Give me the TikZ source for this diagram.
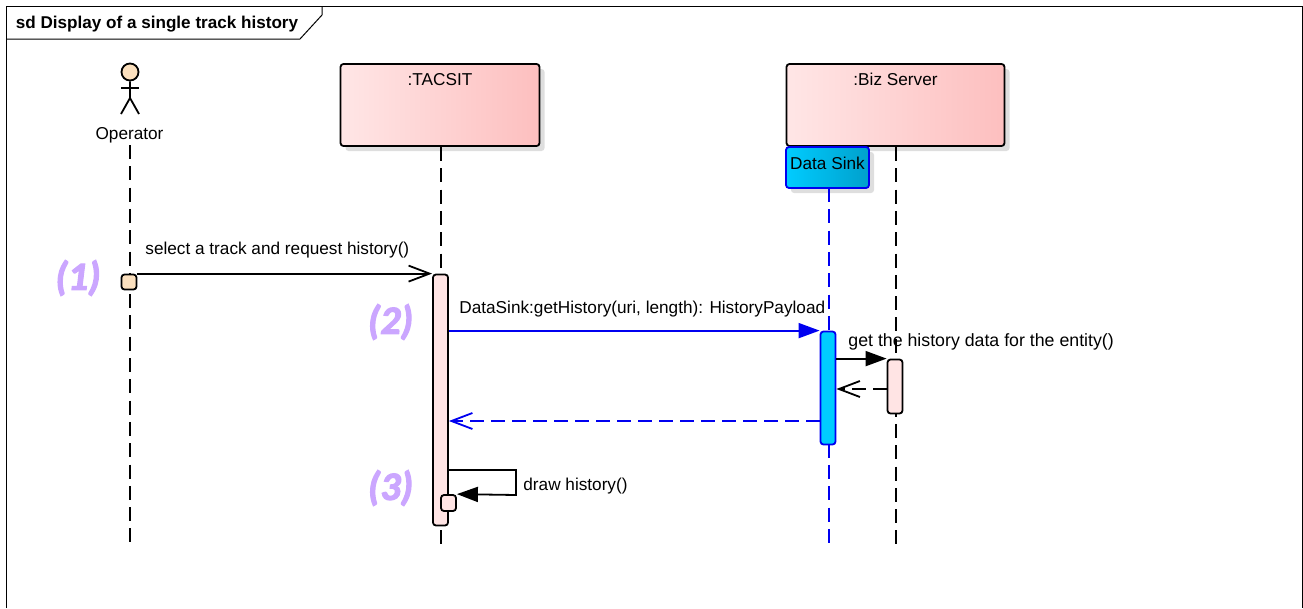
\documentclass[tikz,border=0pt]{standalone}
\usepackage{fontspec}
\setmainfont{Liberation Sans}
\newfontfamily\notefont[BoldItalicFeatures={FakeBold=3}]{Carlito}
\usepackage{xcolor}
\usetikzlibrary{arrows.meta,positioning,shadows}
\definecolor{headleft}{HTML}{FFE6E6}
\definecolor{headright}{HTML}{FDBFBF}
\definecolor{sinkleft}{HTML}{00CCFF}
\definecolor{sinkright}{HTML}{00A0CC}
\definecolor{focuspink}{HTML}{FFE4E4}
\definecolor{focustan}{HTML}{FBE0BE}
\definecolor{notepurple}{HTML}{CBA6FF}
\definecolor{msgblue}{HTML}{0000F0}

\begin{document}
\begin{tikzpicture}[x=1pt,y=-1pt,node distance=5pt,line width=1.8pt,font=\fontsize{17.2}{20}\selectfont]
	\tikzstyle{head}
	  =[draw, rounded corners=3pt, left color=headleft, right color=headright,
	  minimum height=82pt, inner sep=0pt,
	  drop shadow={shadow xshift=5pt, shadow yshift=-5pt, fill=black!13, opacity=1}]
	\tikzstyle{sinkhead}
	  =[draw=msgblue, rounded corners=3pt, left color=sinkleft, right color=sinkright,
	  minimum width=83pt, minimum height=41pt, inner sep=0pt, text height=12pt, text depth=9pt,
	  drop shadow={shadow xshift=5pt, shadow yshift=-5pt, fill=black!13, opacity=1}]
	\tikzstyle{focus}
	  =[draw, rounded corners=3pt, fill=focuspink, minimum width=15pt, inner sep=0pt]
	\tikzstyle{sinkfocus}
	  =[focus, draw=msgblue, fill=sinkleft]
	\tikzstyle{lifeline}
	  =[draw, dash pattern=on 14pt off 7.3pt]
	\tikzstyle{msg}
	  =[draw, -{Triangle[length=21pt,width=15pt]}]
	\tikzstyle{reply}
	  =[draw, dash pattern=on 14pt off 7pt, -{Straight Barb[length=21pt,width=16pt]}]
	\tikzstyle{lbl}
	  =[inner sep=0pt, anchor=west, text height=16pt, text depth=4pt]
	\tikzstyle{headname}
	  =[inner sep=0pt, text height=16pt, text depth=4pt]
	\tikzstyle{note}
	  =[inner sep=0pt, text=notepurple, font=\notefont\bfseries\itshape\fontsize{40}{43}\selectfont]

	\useasboundingbox (0,0) rectangle (1303,608);

	% frame
	\coordinate (framebl) at (6,608);
	\coordinate (frametl) at (6,6);
	\coordinate (frametr) at (1302,6);
	\coordinate (framebr) at (1302,608);
	\coordinate (tabl) at (6,39);
	\coordinate (tabm) at (300,39);
	\coordinate (tabc) at (322,15);
	\coordinate (tabt) at (322,6);
	\draw[line width=1pt] (framebl) -- (frametl) -- (frametr) -- (framebr);
	\draw[line width=1pt] (tabl) -- (tabm) -- (tabc) -- (tabt);
	\node[lbl, font=\bfseries\fontsize{17.1}{20}\selectfont] (title)
	  at (15,22) {sd Display of a single track history};

	% actor
	\node[draw, circle, fill=focustan, minimum size=17pt, inner sep=0pt] (ophead)
	  at (130,72) {};
	\coordinate (ophip) at (130,98);
	\coordinate (oparml) at (121,88);
	\coordinate (oparmr) at (139,88);
	\coordinate (oplegl) at (121,114);
	\coordinate (oplegr) at (139,114);
	\draw (ophead) -- (ophip) -- (oplegl);
	\draw (ophip) -- (oplegr);
	\draw (oparml) -- (oparmr);
	\node[headname] (operator)
	  at (129.5,133) {Operator};

	% heads
	\node[head, minimum width=199pt] (tacsit)
	  at (440,105) {};
	\node[headname] (tacsitname)
	  [below=5pt of tacsit.north] {:TACSIT};
	\node[head, minimum width=218pt] (biz)
	  at (895.5,105) {};
	\node[headname] (bizname)
	  [below=5pt of biz.north] {:Biz Server};
	\node[sinkhead] (sink)
	  at (827.5,167.5) {Data Sink};

	% lifelines
	\coordinate (opend) at (130,543);
	\coordinate (tacsitend) at (441,545);
	\coordinate (sinkend) at (829,548);
	\coordinate (bizend) at (896,545);
	\coordinate (opstart) at (130,145);
	\coordinate (tacsitstart) at (441,147);
	\coordinate (sinkstart) at (829,188);
	\coordinate (bizstart) at (896,147);
	\draw[lifeline] (opstart) -- (opend);
	\draw[lifeline] (tacsitstart) -- (tacsitend);
	\draw[lifeline, msgblue] (sinkstart) -- (sinkend);
	\draw[lifeline] (bizstart) -- (bizend);

	% activations
	\node[focus, fill=focustan, minimum height=15pt] (opfocus)
	  at (129,282) {};
	\node[focus, minimum height=251pt] (tacsitfocus)
	  at (440.5,400) {};
	\node[sinkfocus, minimum height=113pt] (sinkfocus)
	  at (828,388) {};
	\node[focus, minimum height=54pt] (bizfocus)
	  at (895,386.5) {};
	\node[focus, minimum height=16pt] (selffocus)
	  at (448.5,503) {};

	% messages
	\draw[draw, -{Straight Barb[length=21pt,width=16pt]}] (opfocus.north east) -- (tacsitfocus.north west);
	\node[lbl] (selectlbl)
	  at (144.5,248) {select a track and request history()};

	\draw[msg, msgblue] (tacsitfocus.east |- sinkfocus.north) -- (sinkfocus.north west);
	\node[lbl] (getlbl)
	  at (458.5,307) {DataSink:getHistory(uri, length): HistoryPayload};

	\draw[msg] (sinkfocus.east |- bizfocus.north) -- (bizfocus.north west);
	\node[lbl, font=\fontsize{17.75}{20}\selectfont] (datalbl)
	  at (847.5,340) {get the history data for the entity()};

	\coordinate (replyy) at (895,389);
	\draw[reply] (bizfocus.west |- replyy) -- (sinkfocus.east |- replyy);

	\coordinate (returny) at (828,421);
	\draw[reply, msgblue] (sinkfocus.west |- returny) -- (tacsitfocus.east |- returny);

	\coordinate (selfa) at (516,470);
	\coordinate (selfb) at (516,495);
	\draw[msg] (tacsitfocus.east |- selfa) -- (selfa) -- (selfb) -- (selffocus.north east);
	\node[lbl] (drawlbl)
	  at (522.5,484) {draw history()};

	% notes
	\node[note] (n1) at (78,278) {(1)};
	\node[note] (n2) at (390.5,322) {(2)};
	\node[note] (n3) at (390.5,488) {(3)};
\end{tikzpicture}
\end{document}
